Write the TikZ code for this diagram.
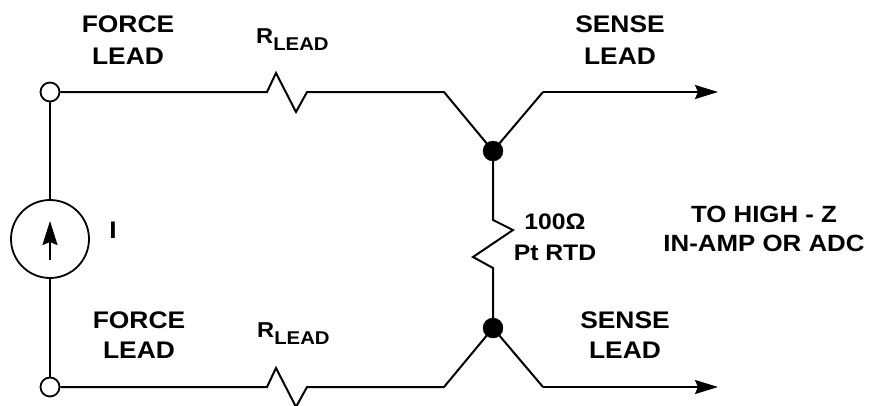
\documentclass[tikz,border=0pt]{standalone}
\usepackage{fontspec}
\setmainfont{Liberation Sans}[FakeStretch=1.1]
\usetikzlibrary{arrows.meta}
\pgfdeclarelayer{edgelayer}
\pgfdeclarelayer{nodelayer}
\pgfsetlayers{edgelayer,nodelayer,main}
\tikzset{font=\bfseries\fontsize{24}{32}\selectfont}
\tikzstyle{none}=[inner sep=0pt]
\tikzstyle{term}=[circle,fill=white,draw,line width=1.8pt,minimum size=19pt,inner sep=0pt]
\tikzstyle{junc}=[circle,fill=black,draw,minimum size=20pt,inner sep=0pt]
\tikzstyle{src}=[circle,draw,line width=1.8pt,minimum size=78pt,inner sep=0pt]
\tikzstyle{wire}=[line width=2pt]
\tikzstyle{tip}=[-{Stealth[length=23pt,width=14pt,inset=3pt]}]
\tikzstyle{lbl}=[align=center,inner sep=0pt]
\newcommand{\rlead}{R\raisebox{-7pt}{\fontsize{18.5}{18.5}\selectfont LEAD}}

\begin{document}
\begin{tikzpicture}[x=1pt,y=-1pt]
	\useasboundingbox (0,0) rectangle (873,405);
	\begin{pgfonlayer}{nodelayer}
		\node [style=term] (0) at (50, 92) {};
		\node [style=junc] (1) at (493, 151) {};
		\node [style=none] (2) at (267, 92) {};
		\node [style=none] (3) at (307, 92) {};
		\node [style=none] (4) at (444, 92) {};
		\node [style=none] (5) at (543, 92) {};
		\node [style=none] (6) at (718, 92) {};
		\node [style=term] (7) at (50, 387) {};
		\node [style=junc] (8) at (493, 328) {};
		\node [style=none] (9) at (267, 387) {};
		\node [style=none] (10) at (307, 387) {};
		\node [style=none] (11) at (444, 387) {};
		\node [style=none] (12) at (543, 387) {};
		\node [style=none] (13) at (718, 387) {};
		\node [style=src] (14) at (50, 239) {};
		\node [style=none] (15) at (493, 220) {};
		\node [style=none] (16) at (493, 268) {};
		% labels
		\node [style=lbl] (17) at (128, 40.5) {FORCE\\LEAD};
		\node [style=lbl, anchor=base west] (18) at (256, 43) {\fontsize{21.5}{21.5}\selectfont\rlead};
		\node [style=lbl] (19) at (620, 40.5) {SENSE\\LEAD};
		\node [style=lbl, font=\bfseries\fontsize{24}{30}\selectfont] (20) at (139, 335.5) {FORCE\\LEAD};
		\node [style=lbl, anchor=base west] (21) at (257, 337) {\fontsize{21.5}{21.5}\selectfont\rlead};
		\node [style=lbl, font=\bfseries\fontsize{24}{30}\selectfont] (22) at (625, 335) {SENSE\\LEAD};
		\node [style=lbl] (23) at (113, 230) {I};
		\node [style=lbl, font=\bfseries\fontsize{22.5}{31}\selectfont] (24) at (555, 237) {100Ω\\Pt RTD};
		\node [style=lbl, font=\bfseries\fontsize{23.5}{29}\selectfont] (25) at (764, 229) {TO HIGH - Z\\IN-AMP OR ADC};
	\end{pgfonlayer}
	\begin{pgfonlayer}{edgelayer}
		\draw [style=wire] (0) to (2.center) -- ++(9,-19) -- ++(20,39) -- (3.center) to (4.center) to (1.center) to (5.center);
		\draw [style=wire, style=tip] (5.center) to (6.center);
		\draw [style=wire] (7) to (9.center) -- ++(9,-19) -- ++(20,39) -- (10.center) to (11.center) to (8.center) to (12.center);
		\draw [style=wire, style=tip] (12.center) to (13.center);
		\draw [style=wire] (0) to (14);
		\draw [style=wire] (14) to (7);
		\draw [style=wire] (1.center) to (15.center) -- ++(20,10) -- ++(-40,27) -- (16.center) to (8.center);
		\draw [style=wire, -{Stealth[length=24pt,width=15pt,inset=3pt]}] (14.center) ++(0,21) -- ++(0,-39);
	\end{pgfonlayer}
\end{tikzpicture}
\end{document}
